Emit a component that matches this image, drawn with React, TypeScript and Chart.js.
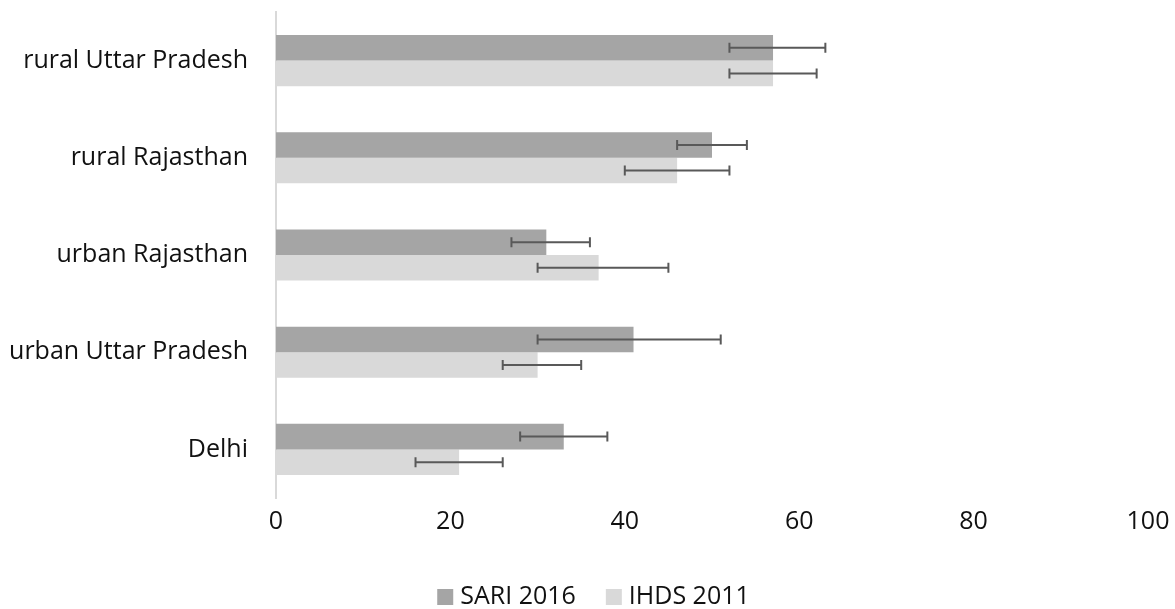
import React, { useEffect, useRef } from "react";
import { Chart, registerables } from "chart.js";

Chart.register(...registerables);

const categories = ["rural Uttar Pradesh", "rural Rajasthan", "urban Rajasthan", "urban Uttar Pradesh", "Delhi"];
const seriesNames = ["SARI 2016", "IHDS 2011"];
const sariValues = [57, 50, 31, 41, 33];
const sariLow = [52, 46, 27, 30, 28];
const sariHigh = [63, 54, 36, 51, 38];
const ihdsValues = [57, 46, 37, 30, 21];
const ihdsLow = [52, 40, 30, 26, 16];
const ihdsHigh = [62, 52, 45, 35, 26];
const xTicks = [0, 20, 40, 60, 80, 100];

const errorLows = [sariLow, ihdsLow];
const errorHighs = [sariHigh, ihdsHigh];

const FONT = "'Open Sans', Lato, sans-serif";
const FONT_SIZE = 25;

const errorBarPlugin = {
  id: "errorBars",
  afterDatasetsDraw(chart: any) {
    const ctx = chart.ctx;
    const xScale = chart.scales.x;
    ctx.save();
    ctx.strokeStyle = "#595959";
    ctx.lineWidth = 2;
    chart.data.datasets.forEach((_: any, di: number) => {
      const meta = chart.getDatasetMeta(di);
      meta.data.forEach((el: any, i: number) => {
        const y = el.y;
        const x1 = xScale.getPixelForValue(errorLows[di][i]);
        const x2 = xScale.getPixelForValue(errorHighs[di][i]);
        const cap = 5;
        ctx.beginPath();
        ctx.moveTo(x1, y);
        ctx.lineTo(x2, y);
        ctx.moveTo(x1, y - cap);
        ctx.lineTo(x1, y + cap);
        ctx.moveTo(x2, y - cap);
        ctx.lineTo(x2, y + cap);
        ctx.stroke();
      });
    });
    ctx.restore();
  },
};

const legendPlugin = {
  id: "customLegend",
  afterDraw(chart: any) {
    const ctx = chart.ctx;
    ctx.save();
    ctx.font = `${FONT_SIZE}px ${FONT}`;
    ctx.textBaseline = "middle";
    ctx.textAlign = "left";
    const box = 16;
    const gap = 7;
    const between = 30;
    const items = chart.data.datasets.map((ds: any) => ({
      text: ds.label,
      color: ds.backgroundColor,
      w: ctx.measureText(ds.label).width,
    }));
    const total = items.reduce((s: number, it: any) => s + box + gap + it.w, 0) + between * (items.length - 1);
    let x = chart.width / 2 + 6 - total / 2;
    const cy = 597;
    items.forEach((it: any) => {
      ctx.fillStyle = it.color;
      ctx.fillRect(x, cy - box / 2, box, box);
      x += box + gap;
      ctx.fillStyle = "#111";
      ctx.fillText(it.text, x, cy);
      x += it.w + between;
    });
    ctx.restore();
  },
};

export default function App() {
  const ref = useRef<HTMLCanvasElement>(null);
  useEffect(() => {
    if (!ref.current) return;
    const chart = new Chart(ref.current, {
      type: "bar",
      data: {
        labels: categories,
        datasets: [
          { label: seriesNames[0], data: sariValues, backgroundColor: "#A5A5A5", categoryPercentage: 0.526, barPercentage: 1 },
          { label: seriesNames[1], data: ihdsValues, backgroundColor: "#D9D9D9", categoryPercentage: 0.526, barPercentage: 1 },
        ],
      },
      options: {
        indexAxis: "y",
        animation: false,
        responsive: false,
        layout: { padding: { top: 12, right: 27, bottom: 51, left: 0 } },
        plugins: {
          legend: { display: false },
          tooltip: { enabled: false },
        },
        scales: {
          x: {
            min: 0,
            max: 100,
            afterBuildTicks: (scale: any) => {
              scale.ticks = xTicks.map((v) => ({ value: v }));
            },
            afterFit: (scale: any) => {
              scale.height = 60;
              scale.paddingLeft = 0;
              scale.paddingRight = 0;
            },
            grid: { display: false, drawTicks: false },
            border: { display: false },
            ticks: { font: { family: FONT, size: FONT_SIZE }, color: "#111", padding: 9 },
          },
          y: {
            afterFit: (scale: any) => {
              scale.width = 276;
              scale.paddingTop = 0;
              scale.paddingBottom = 0;
            },
            grid: { display: false, drawTicks: false },
            border: { display: true, color: "#D9D9D9", width: 2 },
            ticks: { font: { family: FONT, size: FONT_SIZE }, color: "#111", padding: 28 },
          },
        },
      },
      plugins: [errorBarPlugin, legendPlugin],
    });
    return () => chart.destroy();
  }, []);
  return (
    <div style={{ position: "absolute", left: 0, top: 0, width: 1175, height: 609, background: "#fff" }}>
      <canvas ref={ref} width={1175} height={609} />
    </div>
  );
}
